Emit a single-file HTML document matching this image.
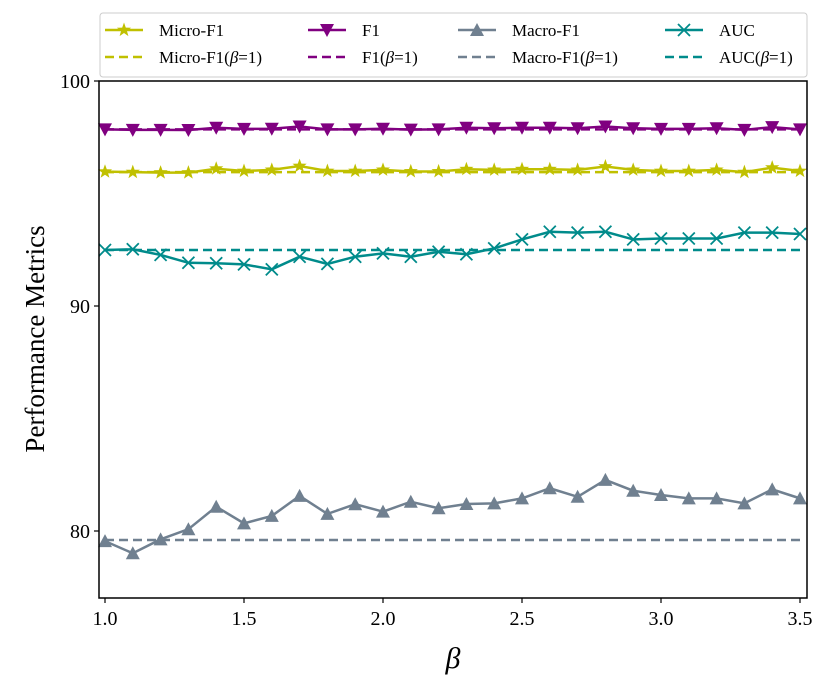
<!DOCTYPE html>
<html><head><meta charset="utf-8"><style>
body{margin:0;background:#fff}
svg{font-family:"Liberation Serif",serif}
</style></head><body>
<svg id="c" width="830" height="686"></svg>
<script>
const betas=[1.0,1.1,1.2,1.3,1.4,1.5,1.6,1.7,1.8,1.9,2.0,2.1,2.2,2.3,2.4,2.5,2.6,2.7,2.8,2.9,3.0,3.1,3.2,3.3,3.4,3.5];
const microF1=[95.97,95.95,95.93,95.93,96.1,96.0,96.05,96.22,96.0,96.0,96.05,95.98,95.98,96.08,96.05,96.08,96.08,96.05,96.2,96.05,96.0,96.0,96.05,95.95,96.15,96.0];
const f1=[97.85,97.83,97.83,97.82,97.92,97.87,97.88,97.98,97.85,97.85,97.88,97.84,97.85,97.92,97.9,97.92,97.92,97.9,97.98,97.9,97.87,97.87,97.9,97.83,97.95,97.85];
const macroF1=[79.55,79.01,79.63,80.08,81.08,80.34,80.67,81.56,80.76,81.19,80.86,81.3,81.01,81.2,81.23,81.45,81.9,81.52,82.27,81.79,81.6,81.45,81.45,81.23,81.85,81.45];
const auc=[92.49,92.52,92.27,91.92,91.9,91.85,91.63,92.19,91.87,92.19,92.34,92.19,92.41,92.3,92.56,92.96,93.3,93.26,93.3,92.96,93.0,93.0,93.0,93.26,93.26,93.2];
const baselines=[95.95,97.85,79.6,92.49];
const xTicks=[1.0,1.5,2.0,2.5,3.0,3.5];
const yTicks=[80,90,100];
const NS="http://www.w3.org/2000/svg";
const svg=document.getElementById('c');
const X=v=>105+(v-1)*278;
const Y=v=>531-(v-80)*22.5;
function mk(t,a,p){const e=document.createElementNS(NS,t);for(const k in a)e.setAttribute(k,a[k]);(p||svg).appendChild(e);return e;}
const L=99,R=807,T=81,B=598;
xTicks.forEach(v=>{
 const g=mk('g',{});
 
 
 mk('line',{x1:X(v),x2:X(v),y1:B,y2:B+5,stroke:'#000','stroke-width':1.2},g);
 const t=mk('text',{x:X(v),y:B+27,'font-size':20,'text-anchor':'middle'},g);t.textContent=v.toFixed(1);
});
yTicks.forEach(v=>{
 const g=mk('g',{});
 
 
 mk('line',{x1:L-5,x2:L,y1:Y(v),y2:Y(v),stroke:'#000','stroke-width':1.2},g);
 const t=mk('text',{x:L-9,y:Y(v)+7,'font-size':20,'text-anchor':'end'},g);t.textContent=v;
});
const series=[
 {name:'micro-f1',data:microF1,color:'#c0c000',m:'star'},
 {name:'f1',data:f1,color:'#800080',m:'tdown'},
 {name:'macro-f1',data:macroF1,color:'#708090',m:'tup'},
 {name:'auc',data:auc,color:'#008b8b',m:'x'}];
function marker(g,m,x,y,c){
 if(m==='star'){let p=[];for(let i=0;i<10;i++){const r=i%2?3:7.5,a=-Math.PI/2+i*Math.PI/5;p.push((x+r*Math.cos(a)).toFixed(1)+','+(y+r*Math.sin(a)).toFixed(1));}mk('polygon',{points:p.join(' '),fill:c},g);}
 else if(m==='tdown')mk('polygon',{points:`${x-7},${y-6} ${x+7},${y-6} ${x},${y+7}`,fill:c},g);
 else if(m==='tup')mk('polygon',{points:`${x-7},${y+6} ${x+7},${y+6} ${x},${y-7}`,fill:c},g);
 else mk('path',{d:`M${x-6},${y-6}L${x+6},${y+6}M${x-6},${y+6}L${x+6},${y-6}`,stroke:c,'stroke-width':1.8,fill:'none'},g);
}
series.forEach((s,i)=>{
 const d=mk('line',{x1:X(1.0),x2:X(3.5),y1:Y(baselines[i]),y2:Y(baselines[i]),stroke:s.color,'stroke-width':2.5,'stroke-dasharray':'9,5'});
 
 
 const g=mk('g',{});
 
 
 mk('polyline',{points:s.data.map((v,j)=>X(betas[j])+','+Y(v)).join(' '),fill:'none',stroke:s.color,'stroke-width':2.5},g);
 s.data.forEach((v,j)=>marker(g,s.m,X(betas[j]),Y(v),s.color));
});
const fr=mk('rect',{x:L,y:T,width:R-L,height:B-T,fill:'none',stroke:'#000','stroke-width':1.5});


const xl=mk('text',{x:453,y:668,'font-size':30,'font-style':'italic','text-anchor':'middle'});xl.textContent='β';


const yl=mk('text',{x:44,y:339,'font-size':27,'text-anchor':'middle',transform:'rotate(-90 44 339)'});yl.textContent='Performance Metrics';


const lg=mk('g',{});


mk('rect',{x:100,y:13,width:707,height:64,rx:3,fill:'#fff',stroke:'#ccc','stroke-width':1},lg);
const cols=[105,308,458,665];
const labs=[['Micro-F1','Micro-F1'],['F1','F1'],['Macro-F1','Macro-F1'],['AUC','AUC']];
series.forEach((s,i)=>{
 const x=cols[i];
 const e1=mk('g',{},lg);
 
 
 mk('line',{x1:x,x2:x+38,y1:30,y2:30,stroke:s.color,'stroke-width':2.5},e1);
 marker(e1,s.m,x+19,30,s.color);
 const t=mk('text',{x:x+54,y:36,'font-size':17},e1);t.textContent=labs[i][0];
 const e2=mk('g',{},lg);
 
 
 mk('line',{x1:x,x2:x+38,y1:57,y2:57,stroke:s.color,'stroke-width':2.5,'stroke-dasharray':'9,5'},e2);
 const t2=mk('text',{x:x+54,y:63,'font-size':17},e2);
 t2.innerHTML=labs[i][1]+'(<tspan font-style="italic">β</tspan>=1)';
});
</script>
</body></html>
